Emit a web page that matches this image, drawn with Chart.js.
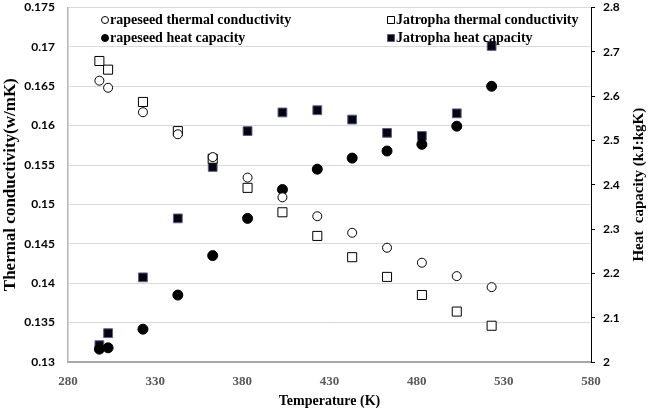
<!DOCTYPE html>
<html lang="en">
<head>
<meta charset="UTF-8">
<title>Thermal conductivity and heat capacity</title>
<script src="https://cdn.jsdelivr.net/npm/chart.js"></script>
<style>
  body { margin: 0; background: #fff; }
</style>
</head>
<body>
<canvas id="chart" width="651" height="410"></canvas>
<script>
// Temperature (K)
const temps = [298, 303, 323, 343, 363, 383, 403, 423, 443, 463, 483, 503, 523];
// thermal conductivity (w/mK), left axis
const rapeseedK = [0.1657, 0.1648, 0.1617, 0.1589, 0.1560, 0.1534, 0.1509, 0.1485, 0.1464, 0.1445, 0.1426, 0.1409, 0.1395];
const jatrophaK = [0.1682, 0.1671, 0.1630, 0.1593, 0.1558, 0.1521, 0.1490, 0.1460, 0.1433, 0.1408, 0.1385, 0.1364, 0.1346];
// heat capacity (kJ/kgK), right axis
const rapeseedCp = [2.029, 2.032, 2.074, 2.151, 2.240, 2.324, 2.389, 2.435, 2.460, 2.476, 2.491, 2.532, 2.622];
const jatrophaCp = [2.038, 2.065, 2.191, 2.324, 2.440, 2.521, 2.563, 2.568, 2.547, 2.517, 2.510, 2.561, 2.713];

const pts = arr => arr.map((v, i) => ({ x: temps[i], y: v }));
const serif = '"Liberation Serif", "Times New Roman", serif';
const sans = 'Lato, "Open Sans", sans-serif';

// legend drawn inside the plot, two columns
const legendItems = [
  { text: 'rapeseed thermal conductivity', col: 0, row: 0, ds: 0 },
  { text: 'Jatropha thermal conductivity', col: 1, row: 0, ds: 1 },
  { text: 'rapeseed heat capacity', col: 0, row: 1, ds: 2 },
  { text: 'Jatropha heat capacity', col: 1, row: 1, ds: 3 }
];

const extras = {
  id: 'extras',
  afterDraw(chart) {
    const ctx = chart.ctx;
    ctx.save();
    // legend
    ctx.font = 'bold 14px ' + serif;
    ctx.textBaseline = 'middle';
    legendItems.forEach(it => {
      const ds = chart.data.datasets[it.ds];
      const mx = it.col ? 391 : 105;
      const my = it.row ? 38 : 20;
      ctx.lineWidth = 1;
      ctx.strokeStyle = ds.borderColor;
      ctx.fillStyle = ds.backgroundColor;
      ctx.beginPath();
      if (ds.pointStyle === 'circle') ctx.arc(mx, my, 3.5, 0, Math.PI * 2);
      else ctx.rect(mx - 3.5, my - 3.5, 7, 7);
      ctx.fill();
      ctx.stroke();
      ctx.fillStyle = '#000';
      ctx.textAlign = 'left';
      ctx.fillText(it.text, mx + 5, my);
    });
    // right axis title, reading bottom to top
    const a = chart.chartArea;
    ctx.font = 'bold 15px ' + serif;
    ctx.translate(639, (a.top + a.bottom) / 2);
    ctx.rotate(-Math.PI / 2);
    ctx.textAlign = 'center';
    ctx.fillText('Heat  capacity (kJ:kgK)', 0, 0);
    ctx.restore();
  }
};

// fixed axis sizes so the plot area sits where it does in the figure
const fitY = w => s => { s.width = w; s.paddingTop = 0; s.paddingBottom = 0; };

new Chart(document.getElementById('chart'), {
  type: 'scatter',
  data: {
    datasets: [
      { label: 'rapeseed thermal conductivity', data: pts(rapeseedK), yAxisID: 'y',
        pointStyle: 'circle', pointRadius: 4.5, backgroundColor: '#fff', borderColor: '#000', borderWidth: 1 },
      { label: 'Jatropha thermal conductivity', data: pts(jatrophaK), yAxisID: 'y',
        pointStyle: 'rect', pointRadius: 6.4, backgroundColor: '#fff', borderColor: '#000', borderWidth: 1 },
      { label: 'rapeseed heat capacity', data: pts(rapeseedCp), yAxisID: 'y1',
        pointStyle: 'circle', pointRadius: 5, backgroundColor: '#000', borderColor: '#000', borderWidth: 1 },
      { label: 'Jatropha heat capacity', data: pts(jatrophaCp), yAxisID: 'y1',
        pointStyle: 'rect', pointRadius: 6.2, backgroundColor: '#05050f', borderColor: '#5a5a8a', borderWidth: 1 }
    ]
  },
  options: {
    responsive: false,
    animation: false,
    layout: { padding: { top: 6, left: 0, right: 0, bottom: 0 } },
    plugins: { legend: { display: false }, tooltip: { enabled: false } },
    scales: {
      x: {
        type: 'linear', min: 280, max: 580,
        afterFit: s => { s.height = 48; },
        ticks: { stepSize: 50, padding: 12, color: '#595959', font: { family: serif, size: 13, weight: 'bold' } },
        grid: { display: false, drawTicks: false },
        border: { color: '#a6a6a6', width: 2 },
        title: { display: true, text: 'Temperature (K)', color: '#000', padding: { top: 0, bottom: 0 },
                 font: { family: serif, size: 14, weight: 'bold' } }
      },
      y: {
        position: 'left', min: 0.13, max: 0.175,
        afterFit: fitY(68),
        ticks: { stepSize: 0.005, padding: 13, color: '#000', font: { family: sans, size: 12, weight: 'bold' },
                 callback: v => String(parseFloat(v.toFixed(3))) },
        grid: { color: '#d9d9d9', lineWidth: 1, drawTicks: false },
        border: { color: '#b3b3b3', width: 1.5 },
        title: { display: true, text: 'Thermal conductivity(w/mK)', color: '#000', padding: { top: 0, bottom: 0 },
                 font: { family: serif, size: 17, weight: 'bold' } }
      },
      y1: {
        position: 'right', min: 2, max: 2.8,
        afterFit: fitY(60),
        ticks: { stepSize: 0.1, padding: 8, color: '#000', font: { family: sans, size: 12, weight: 'bold' },
                 callback: v => String(parseFloat(v.toFixed(1))) },
        grid: { drawOnChartArea: false, drawTicks: true, tickLength: 4, color: '#000' },
        border: { color: '#000', width: 1 }
      }
    }
  },
  plugins: [extras]
});
</script>
</body>
</html>
